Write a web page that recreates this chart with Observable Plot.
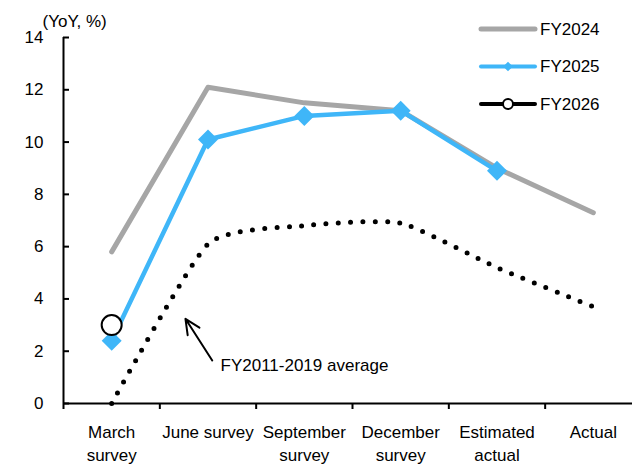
<!DOCTYPE html>
<html>
<head>
<meta charset="utf-8">
<script src="https://cdn.jsdelivr.net/npm/d3@7"></script>
<script src="https://cdn.jsdelivr.net/npm/@observablehq/plot@0.6"></script>
<style>
  html, body { margin: 0; padding: 0; background: #fff; }
  #chart { width: 632px; height: 467px; }
</style>
</head>
<body>
<div id="chart"></div>
<script>
// ---- data ----
const categories = ["March\nsurvey", "June survey", "September\nsurvey", "December\nsurvey", "Estimated\nactual", "Actual"];
const yTicks = [0, 2, 4, 6, 8, 10, 12, 14];
const fy2024 = [5.8, 12.1, 11.5, 11.2, 9.0, 7.3];
const fy2025 = [2.4, 10.1, 11.0, 11.2, 8.9];
const fy2026 = [3.0];
const avg2011to2019 = [0.0, 6.1, 6.8, 6.9, 5.2, 3.7];
const seriesNames = ["FY2024", "FY2025", "FY2026"];
const yLabel = "(YoY, %)";
const noteText = "FY2011-2019 average";
const noteArrow = [{x1: 1.044, y1: 1.645, x2: 0.766, y2: 3.24}];
const noteLabel = [{x: 1.13, y: 1.47, text: noteText}];

// ---- helpers ----
const GREY = "#a6a6a6", BLUE = "#3fb6f8", BLACK = "#000";
const FONT = "'Liberation Sans', Arial, sans-serif";
const rows = vals => vals.map((v, i) => ({i, v}));
const centers = d3.range(categories.length);
const boundaries = d3.range(categories.length + 1).map(i => i - 0.5);

const chart = Plot.plot({
  width: 632,
  height: 467,
  marginLeft: 63,
  marginRight: 0,
  marginTop: 37,
  marginBottom: 64,
  style: {fontFamily: FONT, fontSize: "17px", color: BLACK, background: "#fff", overflow: "visible"},
  x: {type: "linear", domain: [-0.5, categories.length - 0.5], range: [63, 641]},
  y: {domain: [0, 14], range: [403, 37]},
  marks: [
    Plot.axisY({ticks: yTicks, tickSize: 6, dx: 6, tickPadding: 20, strokeWidth: 2, label: null, fontSize: 17}),
    Plot.axisX({ticks: boundaries, tickSize: 6, tickFormat: () => "", strokeWidth: 2, label: null}),
    Plot.axisX({ticks: centers, tickSize: 0, tickPadding: 19, tickFormat: i => categories[i], lineHeight: 1.32, label: null, fontSize: 17}),
    Plot.ruleX([-0.5], {y1: 0, y2: 14, strokeWidth: 2, stroke: BLACK}),
    Plot.ruleY([0], {strokeWidth: 2, stroke: BLACK}),
    Plot.text([yLabel], {frameAnchor: "top-left", dx: -21, dy: -16, textAnchor: "start", lineAnchor: "middle", fontSize: 17}),
    Plot.line(rows(avg2011to2019), {x: "i", y: "v", stroke: BLACK, strokeWidth: 5, strokeDasharray: "0 12.3", strokeLinecap: "round", curve: d3.curveCardinal.tension(0.45)}),
    Plot.line(rows(fy2024), {x: "i", y: "v", stroke: GREY, strokeWidth: 5, strokeLinecap: "round", strokeLinejoin: "round"}),
    Plot.line(rows(fy2025), {x: "i", y: "v", stroke: BLUE, strokeWidth: 4.5, strokeLinecap: "round", strokeLinejoin: "round"}),
    Plot.dot(rows(fy2025), {x: "i", y: "v", symbol: "diamond2", r: 9, fill: BLUE}),
    Plot.dot(rows(fy2026), {x: "i", y: "v", r: 10, fill: "#fff", stroke: BLACK, strokeWidth: 2}),
    Plot.arrow(noteArrow, {x1: "x1", y1: "y1", x2: "x2", y2: "y2", stroke: BLACK, strokeWidth: 2, headLength: 14, headAngle: 50}),
    Plot.text(noteLabel, {x: "x", y: "y", text: "text", textAnchor: "start", lineAnchor: "middle", fontSize: 17})
  ]
});

// ---- legend (drawn inside the same svg) ----
const svg = d3.select(chart);
const lg = svg.append("g").attr("font-family", FONT).attr("font-size", 17).attr("text-anchor", "start");
const legendStyles = [
  {color: GREY, width: 5, marker: null},
  {color: BLUE, width: 4, marker: "diamond"},
  {color: BLACK, width: 4, marker: "circle"}
];
seriesNames.forEach((name, k) => {
  const s = legendStyles[k];
  const y = 29 + k * 37.5;
  const g = lg.append("g").attr("transform", `translate(0,${y})`);
  g.append("line").attr("x1", 481).attr("x2", 535).attr("y1", 0).attr("y2", 0)
    .attr("stroke", s.color).attr("stroke-width", s.width).attr("stroke-linecap", "round");
  if (s.marker === "diamond") {
    g.append("path").attr("d", d3.symbol(d3.symbolDiamond2, 60)()).attr("transform", "translate(508,0)").attr("fill", s.color);
  } else if (s.marker === "circle") {
    g.append("circle").attr("cx", 508).attr("cy", 0).attr("r", 5).attr("fill", "#fff").attr("stroke", BLACK).attr("stroke-width", 2);
  }
  g.append("text").attr("x", 540).attr("y", 0).attr("dy", "0.35em").attr("text-anchor", "start").attr("fill", BLACK).text(name);
});

document.getElementById("chart").appendChild(chart);
</script>
</body>
</html>
